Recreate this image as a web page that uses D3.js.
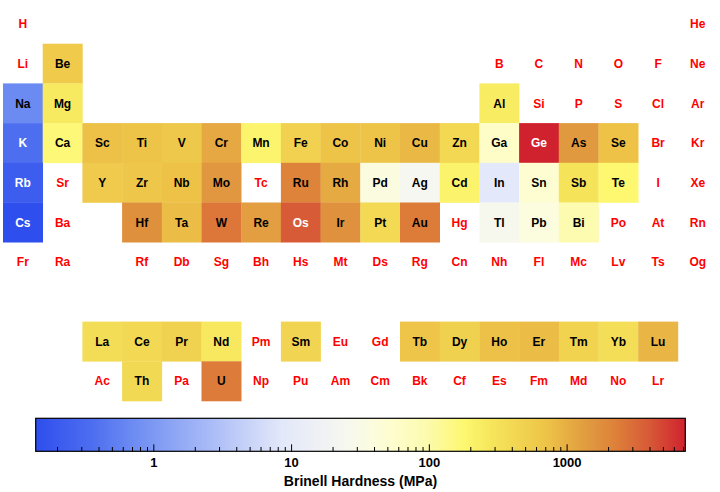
<!DOCTYPE html>
<html>
<head>
<meta charset="utf-8">
<script src="https://cdn.jsdelivr.net/npm/d3@7"></script>
<style>
  html, body { margin: 0; padding: 0; background: #fff; }
  svg { display: block; }
  text { font-family: "Liberation Sans", Arial, Helvetica, sans-serif; font-weight: bold; }
</style>
</head>
<body>
<svg id="chart" width="720" height="492"></svg>
<script>
// ---- data ----
const symbols = ["H","He","Li","Be","B","C","N","O","F","Ne",
  "Na","Mg","Al","Si","P","S","Cl","Ar",
  "K","Ca","Sc","Ti","V","Cr","Mn","Fe","Co","Ni","Cu","Zn","Ga","Ge","As","Se","Br","Kr",
  "Rb","Sr","Y","Zr","Nb","Mo","Tc","Ru","Rh","Pd","Ag","Cd","In","Sn","Sb","Te","I","Xe",
  "Cs","Ba","La","Ce","Pr","Nd","Pm","Sm","Eu","Gd","Tb","Dy","Ho","Er","Tm","Yb","Lu",
  "Hf","Ta","W","Re","Os","Ir","Pt","Au","Hg","Tl","Pb","Bi","Po","At","Rn",
  "Fr","Ra","Ac","Th","Pa","U","Np","Pu","Am","Cm","Bk","Cf","Es","Fm","Md","No","Lr",
  "Rf","Db","Sg","Bh","Hs","Mt","Ds","Rg","Cn","Nh","Fl","Mc","Lv","Ts","Og"];

// Brinell hardness in MPa, indexed by atomic number - 1 (null = no data)
const hardness = [null,null,null,600,null,null,null,null,null,null,
  0.69,260,245,null,null,null,null,null,
  0.363,167,750,716,628,1120,196,490,700,700,874,412,60,7273,1440,736,null,null,
  0.216,null,589,650,736,1500,null,2160,1100,37.3,24.5,203,8.83,51,294,180,null,null,
  0.14,null,363,412,481,265,null,441,null,null,677,500,746,814,471,343,893,
  1700,800,2570,1320,3920,1670,392,2450,null,26.4,38.3,94.2,null,null,null,
  null,null,null,400,null,2400,null,null,null,null,null,null,null,null,null,null,null,
  null,null,null,null,null,null,null,null,null,null,null,null,null,null,null];

const colorbarMajorTicks = [1, 10, 100, 1000];
const colorbarDomain = [0.14, 7273];
const colorbarTitle = "Brinell Hardness (MPa)";

// ---- layout helpers ----
function position(z) {
  if (z === 1) return [0, 0];
  if (z === 2) return [0, 17];
  if (z <= 4) return [1, z - 3];
  if (z <= 10) return [1, z - 5 + 12];
  if (z <= 12) return [2, z - 11];
  if (z <= 18) return [2, z - 13 + 12];
  if (z <= 36) return [3, z - 19];
  if (z <= 54) return [4, z - 37];
  if (z <= 56) return [5, z - 55];
  if (z <= 71) return [8, z - 57 + 2];
  if (z <= 86) return [5, z - 72 + 3];
  if (z <= 88) return [6, z - 87];
  if (z <= 103) return [9, z - 89 + 2];
  return [6, z - 104 + 3];
}

const elements = symbols.map((s, i) => {
  const [row, col] = position(i + 1);
  return { symbol: s, value: hardness[i], row, col };
});

const cell = 39.7;
const x = d3.scaleBand().domain(d3.range(18)).range([3, 3 + 18 * cell]).padding(0);
const y = d3.scaleBand().domain(d3.range(10)).range([4, 4 + 10 * cell]).padding(0);

// colour scale (log value -> fraction -> colour ramp)
const logNorm = d3.scaleLog().domain(colorbarDomain).range([0, 1]).clamp(true);
const rampStops = [
  [0.00, "rgb(46,78,238)"],
  [0.087, "rgb(78,110,240)"],
  [0.146, "rgb(107,138,242)"],
  [0.25, "rgb(160,180,246)"],
  [0.38, "rgb(227,232,250)"],
  [0.475, "rgb(246,247,240)"],
  [0.52, "rgb(252,252,222)"],
  [0.558, "rgb(254,253,200)"],
  [0.60, "rgb(252,251,176)"],
  [0.659, "rgb(253,248,112)"],
  [0.705, "rgb(245,228,90)"],
  [0.789, "rgb(237,194,71)"],
  [0.851, "rgb(224,153,63)"],
  [0.89, "rgb(222,130,58)"],
  [0.944, "rgb(215,90,55)"],
  [1.00, "rgb(208,34,46)"]
];
const ramp = d3.scaleLinear()
  .domain(rampStops.map(d => d[0]))
  .range(rampStops.map(d => d[1]))
  .interpolate(d3.interpolateRgb)
  .clamp(true);
const color = v => ramp(logNorm(v));

function luminance(c) {
  const r = d3.rgb(c);
  const f = u => { u /= 255; return u <= 0.03928 ? u / 12.92 : Math.pow((u + 0.055) / 1.055, 2.4); };
  return 0.2126 * f(r.r) + 0.7152 * f(r.g) + 0.0722 * f(r.b);
}

const svg = d3.select("#chart");

// ---- cells ----
const g = svg.append("g");
g.selectAll("rect.cell")
  .data(elements.filter(d => d.value != null))
  .join("rect")
  .attr("class", "cell")
  .attr("x", d => x(d.col))
  .attr("y", d => y(d.row))
  .attr("width", x.bandwidth() + 0.3)
  .attr("height", y.bandwidth() + 0.3)
  .attr("fill", d => color(d.value));

g.selectAll("text.sym")
  .data(elements)
  .join("text")
  .attr("class", "sym")
  .attr("x", d => x(d.col) + x.bandwidth() / 2)
  .attr("y", d => y(d.row) + y.bandwidth() / 2)
  .attr("dy", "0.36em")
  .attr("text-anchor", "middle")
  .attr("font-size", 12)
  .attr("fill", d => d.value == null ? "#ff0000" : (luminance(color(d.value)) < 0.25 ? "#ffffff" : "#000000"))
  .text(d => d.symbol);

// ---- colour bar ----
const barX0 = 35.7, barX1 = 685.3, barY0 = 418.3, barY1 = 451.3;
const cbScale = d3.scaleLog().domain(colorbarDomain).range([barX0, barX1]);

const defs = svg.append("defs");
const grad = defs.append("linearGradient").attr("id", "cbgrad")
  .attr("x1", "0%").attr("x2", "100%").attr("y1", "0%").attr("y2", "0%");
grad.selectAll("stop")
  .data(d3.range(0, 1.0001, 0.01))
  .join("stop")
  .attr("offset", d => (d * 100) + "%")
  .attr("stop-color", d => ramp(d));

svg.append("rect")
  .attr("x", barX0).attr("y", barY0)
  .attr("width", barX1 - barX0).attr("height", barY1 - barY0)
  .attr("fill", "url(#cbgrad)");

const minorTicks = [];
[0.1, 1, 10, 100, 1000].forEach(d => {
  for (let m = 2; m <= 9; m++) {
    const v = m * d;
    if (v >= colorbarDomain[0] && v <= colorbarDomain[1]) minorTicks.push(v);
  }
});

const minorAxis = d3.axisBottom(cbScale).tickValues(minorTicks).tickSize(-4.3).tickFormat("");
const majorAxis = d3.axisBottom(cbScale).tickValues(colorbarMajorTicks).tickSize(-7).tickPadding(6)
  .tickFormat(d3.format("d"));

const ga1 = svg.append("g").attr("transform", `translate(0,${barY1})`).call(minorAxis);
const ga2 = svg.append("g").attr("transform", `translate(0,${barY1})`).call(majorAxis);
[ga1, ga2].forEach(a => {
  a.select(".domain").remove();
  a.selectAll(".tick line").attr("stroke", "#000").attr("stroke-width", 1);
});
ga2.selectAll(".tick text")
  .attr("fill", "#000")
  .attr("font-size", 13)
  .attr("font-family", "\"Liberation Sans\", Arial, sans-serif")
  .attr("font-weight", "bold");

svg.append("rect")
  .attr("x", barX0).attr("y", barY0)
  .attr("width", barX1 - barX0).attr("height", barY1 - barY0)
  .attr("fill", "none").attr("stroke", "#000").attr("stroke-width", 1.2);

svg.append("text")
  .attr("x", (barX0 + barX1) / 2)
  .attr("y", 486)
  .attr("text-anchor", "middle")
  .attr("font-size", 14)
  .attr("fill", "#000")
  .text(colorbarTitle);
</script>
</body>
</html>
